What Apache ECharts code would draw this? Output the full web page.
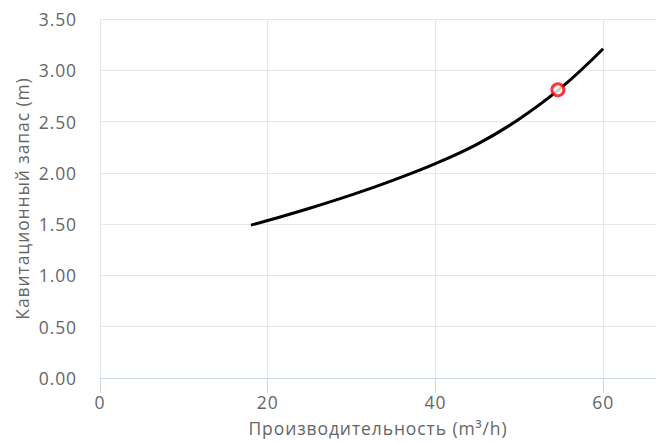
<!DOCTYPE html>
<html>
<head>
<meta charset="utf-8">
<script src="https://cdn.jsdelivr.net/npm/echarts@6/dist/echarts.min.js"></script>
<style>
html,body{margin:0;padding:0;background:#fff;}
#main{width:656px;height:444px;}
#main text{letter-spacing:0.9px;}
</style>
</head>
<body>
<div id="main"></div>
<script>
const flowValues = [18, 20, 25, 30, 35, 40, 45, 50, 55, 60];
const npshValues = [1.49, 1.535, 1.655, 1.785, 1.93, 2.09, 2.28, 2.525, 2.83, 3.21];
const operatingPoint = [54.6, 2.81];
const xTicks = [0, 20, 40, 60];
const yTicks = [0, 0.5, 1, 1.5, 2, 2.5, 3, 3.5];
const xTitle = 'Производительность (m³/h)';
const yTitle = 'Кавитационный запас (m)';

const FONT = '"Open Sans"';
const chart = echarts.init(document.getElementById('main'), null, {renderer: 'svg'});
chart.setOption({
  animation: false,
  grid: {left: 100, right: 0, top: 19, bottom: 66},
  xAxis: {
    type: 'value',
    min: xTicks[0],
    max: 66.3,
    interval: 20,
    name: xTitle,
    nameLocation: 'middle',
    nameGap: 41,
    nameTextStyle: {color: '#666666', fontSize: 17.5, fontFamily: FONT},
    axisLine: {show: true, lineStyle: {color: '#ccd6eb', width: 1}},
    axisTick: {show: true, length: 15, lineStyle: {color: '#ccd6eb'}},
    axisLabel: {color: '#666666', fontSize: 17.5, fontFamily: FONT, margin: 15, showMaxLabel: false},
    splitLine: {show: true, lineStyle: {color: '#e6e6e6', width: 1}}
  },
  yAxis: {
    type: 'value',
    min: yTicks[0],
    max: yTicks[yTicks.length - 1],
    interval: 0.5,
    name: yTitle,
    nameLocation: 'middle',
    nameGap: 66,
    nameTextStyle: {color: '#666666', fontSize: 17.5, fontFamily: FONT},
    axisLine: {show: false},
    axisTick: {show: false},
    axisLabel: {color: '#666666', fontSize: 17.5, fontFamily: FONT, margin: 23,
      formatter: v => v.toFixed(2)},
    splitLine: {show: true, lineStyle: {color: '#e6e6e6', width: 1}}
  },
  series: [
    {
      type: 'line',
      data: flowValues.map((x, i) => [x, npshValues[i]]),
      smooth: 0.4,
      showSymbol: false,
      lineStyle: {color: '#000000', width: 3},
      itemStyle: {color: '#000000'},
      z: 2
    },
    {
      type: 'scatter',
      data: [operatingPoint],
      symbol: 'circle',
      symbolSize: 12,
      itemStyle: {color: '#ffffff', borderColor: '#ff0000', borderWidth: 3},
      z: 3
    }
  ]
});
</script>
</body>
</html>
